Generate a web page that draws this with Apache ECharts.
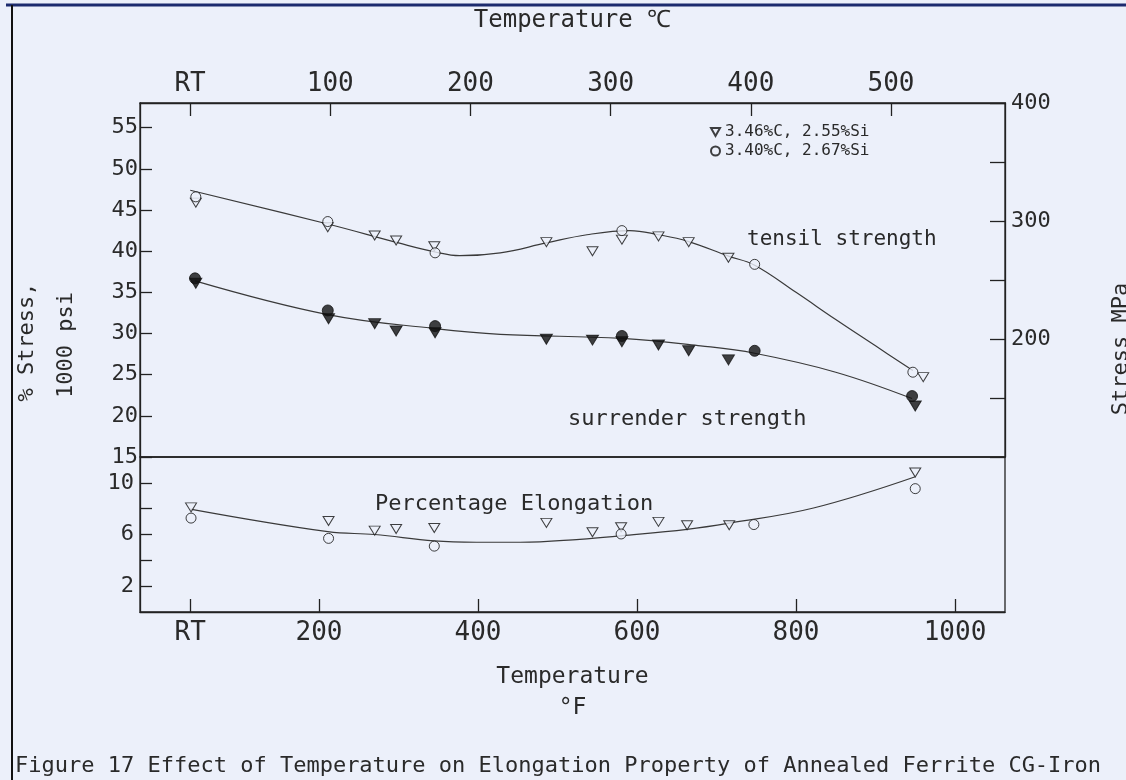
<!DOCTYPE html>
<html><head><meta charset="utf-8">
<script src="https://cdn.jsdelivr.net/npm/echarts@6/dist/echarts.min.js"></script>
<style>html,body{margin:0;padding:0;background:#ECF0FA;} #c{width:1126px;height:780px;}</style>
</head><body><div id="c"></div>
<script>
// ---- tick values / labels ----
const fTickValues = [38, 200, 400, 600, 800, 1000];
const fTickLabels = ['RT', '200', '400', '600', '800', '1000'];
const cTickValues = [0, 100, 200, 300, 400, 500];
const cTickLabels = ['RT', '100', '200', '300', '400', '500'];
const stressTicks = [15, 20, 25, 30, 35, 40, 45, 50, 55];
const mpaTicks = [100, 150, 200, 250, 300, 350, 400];
const mpaLabels = [200, 300, 400];
const elongTicks = [2, 4, 6, 8, 10];
const elongLabels = [2, 6, 10];

// ---- data: [°F, value] ----
// tensile strength (1000 psi)
const tensileA = [[45,45.9],[211,42.9],[270,41.9],[297,41.3],[345,40.6],[486,41.1],[544,40.0],[581,41.4],[627,41.8],[665,41.1],[715,39.2],[960,24.7]]; // 3.46%C, 2.55%Si
const tensileB = [[45,46.6],[211,43.6],[346,39.8],[581,42.5],[748,38.4],[947,25.3]]; // 3.40%C, 2.67%Si
// surrender (yield) strength (1000 psi)
const yieldA = [[45,36.1],[212,31.8],[270,31.2],[297,30.3],[346,30.1],[486,29.3],[544,29.2],[581,29.0],[627,28.6],[665,27.9],[715,26.8],[950,21.2]];
const yieldB = [[44,36.7],[211,32.8],[346,30.9],[581,29.7],[748,27.9],[946,22.4]];
// percentage elongation
const elongA = [[39,8.1],[212,7.05],[270,6.3],[297,6.43],[345,6.5],[486,6.9],[544,6.17],[580,6.56],[627,6.98],[663,6.72],[716,6.72],[950,10.8]];
const elongB = [[39,7.27],[212,5.7],[345,5.1],[580,6.04],[747,6.77],[950,9.55]];
// fitted curves
const tensileCurve = [[38,47.4],[211,43.3],[300,41.0],[346,39.9],[377,39.45],[428,39.8],[486,41.0],[537,42.0],[591,42.5],[627,42.0],[664,41.2],[715,39.4],[748,38.3],[800,35.0],[850,31.7],[900,28.5],[947,25.5]];
const yieldCurve = [[44,36.4],[211,32.3],[346,30.6],[428,29.9],[581,29.4],[680,28.5],[748,27.6],[850,25.3],[946,22.1]];
const elongCurve = [[38,7.97],[211,6.22],[270,6.0],[345,5.5],[398,5.4],[453,5.4],[528,5.63],[580,5.9],[663,6.4],[716,6.88],[822,8.05],[950,10.47]];

const nameA = '3.46%C, 2.55%Si';
const nameB = '3.40%C, 2.67%Si';

const FONT = '"DejaVu Sans Mono", "Liberation Mono", monospace';
const TXT = '#2a2a2a';
const BG = '#ECF0FA';
const AX = '#222';

const chart = echarts.init(document.getElementById('c'), null, {renderer: 'canvas'});

function mapLabel(values, labels) {
  return v => { const i = values.indexOf(v); return i >= 0 ? labels[i] : ''; };
}
const openStyle = {color: BG, borderColor: '#111', borderWidth: 1};
const fillStyle = {color: '#111', borderColor: '#111', borderWidth: 1};
const downTri = 'path://M0,0L10,0L5,9Z';

chart.setOption({
  backgroundColor: BG,
  animation: false,
  grid: [
    {left: 140, top: 103, width: 865, height: 354, show: true, borderColor: AX, borderWidth: 1.3, backgroundColor: 'transparent'},
    {left: 140, top: 457, width: 865, height: 155, show: true, borderColor: AX, borderWidth: 1.3, backgroundColor: 'transparent'}
  ],
  xAxis: [
    {gridIndex: 0, type: 'value', min: -25.2, max: 1062.9, position: 'bottom',
     axisLine: {show: false, onZero: false}, axisTick: {show: false}, axisLabel: {show: false}, splitLine: {show: false}},
    {gridIndex: 0, type: 'value', min: -35.7, max: 581.3, position: 'top',
     name: 'Temperature ℃', nameLocation: 'middle', nameGap: 70,
     nameTextStyle: {fontFamily: FONT, fontSize: 24, color: TXT},
     axisLine: {show: true, onZero: false, lineStyle: {color: AX, width: 1.3}},
     axisTick: {show: true, inside: true, length: 13, customValues: cTickValues, lineStyle: {color: AX, width: 1.3}},
     axisLabel: {show: true, customValues: cTickValues, formatter: mapLabel(cTickValues, cTickLabels),
                 fontFamily: FONT, fontSize: 26, color: TXT, margin: 6},
     splitLine: {show: false}},
    {gridIndex: 1, type: 'value', min: -25.2, max: 1062.9, position: 'bottom',
     name: 'Temperature\n°F', nameLocation: 'middle', nameGap: 50,
     nameTextStyle: {fontFamily: FONT, fontSize: 23, color: TXT, lineHeight: 31},
     axisLine: {show: true, onZero: false, lineStyle: {color: AX, width: 1.3}},
     axisTick: {show: true, inside: true, length: 13, customValues: fTickValues, lineStyle: {color: AX, width: 1.3}},
     axisLabel: {show: true, customValues: fTickValues, formatter: mapLabel(fTickValues, fTickLabels),
                 fontFamily: FONT, fontSize: 26, color: TXT, margin: 8},
     splitLine: {show: false}}
  ],
  yAxis: [
    {gridIndex: 0, type: 'value', min: 15, max: 58, position: 'left',
     axisLine: {show: true, onZero: false, lineStyle: {color: AX, width: 1.3}},
     axisTick: {show: true, inside: true, length: 12, customValues: stressTicks, lineStyle: {color: AX, width: 1.3}},
     axisLabel: {show: true, customValues: stressTicks, fontFamily: FONT, fontSize: 22, color: TXT, margin: 2},
     splitLine: {show: false}},
    {gridIndex: 0, type: 'value', min: 100, max: 400, position: 'right',
     axisLine: {show: true, onZero: false, lineStyle: {color: AX, width: 1.3}},
     axisTick: {show: true, inside: true, length: 15, customValues: mpaTicks, lineStyle: {color: AX, width: 1.3}},
     axisLabel: {show: true, customValues: mpaLabels, fontFamily: FONT, fontSize: 22, color: TXT, margin: 6},
     splitLine: {show: false}},
    {gridIndex: 1, type: 'value', min: 0, max: 12, position: 'left',
     axisLine: {show: true, onZero: false, lineStyle: {color: AX, width: 1.3}},
     axisTick: {show: true, inside: true, length: 12, customValues: elongTicks, lineStyle: {color: AX, width: 1.3}},
     axisLabel: {show: true, customValues: elongLabels, fontFamily: FONT, fontSize: 22, color: TXT, margin: 6},
     splitLine: {show: false}}
  ],
  legend: {
    show: true, orient: 'vertical', left: 710, top: 124, padding: 0,
    itemWidth: 9, itemHeight: 9, itemGap: 3, selectedMode: false,
    textStyle: {fontFamily: FONT, fontSize: 16, color: TXT},
    data: [{name: nameA, icon: downTri}, {name: nameB, icon: 'circle'}]
  },
  series: [
    {type: 'line', name: 'tensil strength', xAxisIndex: 0, yAxisIndex: 0, data: tensileCurve, smooth: 0.4,
     symbol: 'none', lineStyle: {color: '#3a3a3a', width: 1.2}, z: 2},
    {type: 'line', name: 'surrender strength', xAxisIndex: 0, yAxisIndex: 0, data: yieldCurve, smooth: 0.4,
     symbol: 'none', lineStyle: {color: '#3a3a3a', width: 1.2}, z: 2},
    {type: 'line', name: 'Percentage Elongation', xAxisIndex: 2, yAxisIndex: 2, data: elongCurve, smooth: 0.4,
     symbol: 'none', lineStyle: {color: '#3a3a3a', width: 1.2}, z: 2},
    {type: 'scatter', name: nameA, xAxisIndex: 0, yAxisIndex: 0, data: tensileA,
     symbol: 'triangle', symbolRotate: 180, symbolSize: [11, 9], itemStyle: openStyle, z: 3},
    {type: 'scatter', name: nameB, xAxisIndex: 0, yAxisIndex: 0, data: tensileB,
     symbol: 'circle', symbolSize: 10, itemStyle: openStyle, z: 3},
    {type: 'scatter', name: 'yield ' + nameA, xAxisIndex: 0, yAxisIndex: 0, data: yieldA,
     symbol: 'triangle', symbolRotate: 180, symbolSize: [12, 10], itemStyle: fillStyle, z: 3},
    {type: 'scatter', name: 'yield ' + nameB, xAxisIndex: 0, yAxisIndex: 0, data: yieldB,
     symbol: 'circle', symbolSize: 11, itemStyle: fillStyle, z: 3},
    {type: 'scatter', name: nameA, xAxisIndex: 2, yAxisIndex: 2, data: elongA,
     symbol: 'triangle', symbolRotate: 180, symbolSize: [11, 9], itemStyle: openStyle, z: 3},
    {type: 'scatter', name: nameB, xAxisIndex: 2, yAxisIndex: 2, data: elongB,
     symbol: 'circle', symbolSize: 10, itemStyle: openStyle, z: 3}
  ],
  graphic: [
    {type: 'line', shape: {x1: 6, y1: 5, x2: 1126, y2: 5}, style: {stroke: '#1c2b6e', lineWidth: 3}},
    {type: 'line', shape: {x1: 12, y1: 5, x2: 12, y2: 780}, style: {stroke: '#111', lineWidth: 2}},
    {type: 'text', x: 747, y: 240, style: {text: 'tensil strength', font: '21px ' + FONT, fill: TXT, textAlign: 'left', textVerticalAlign: 'middle'}},
    {type: 'text', x: 568, y: 419, style: {text: 'surrender strength', font: '22px ' + FONT, fill: TXT, textAlign: 'left', textVerticalAlign: 'middle'}},
    {type: 'text', x: 375, y: 504, style: {text: 'Percentage Elongation', font: '22px ' + FONT, fill: TXT, textAlign: 'left', textVerticalAlign: 'middle'}},
    {type: 'text', x: 27, y: 342, rotation: Math.PI / 2, style: {text: '% Stress,', font: '22px ' + FONT, fill: TXT, textAlign: 'center', textVerticalAlign: 'middle'}},
    {type: 'text', x: 66, y: 345, rotation: Math.PI / 2, style: {text: '1000 psi', font: '22px ' + FONT, fill: TXT, textAlign: 'center', textVerticalAlign: 'middle'}},
    {type: 'text', x: 1121, y: 349, rotation: Math.PI / 2, style: {text: 'Stress MPa', font: '22px ' + FONT, fill: TXT, textAlign: 'center', textVerticalAlign: 'middle'}},
    {type: 'text', x: 15, y: 766, style: {text: 'Figure 17 Effect of Temperature on Elongation Property of Annealed Ferrite CG-Iron', font: '22px ' + FONT, fill: TXT, textAlign: 'left', textVerticalAlign: 'middle'}}
  ]
});
</script>
</body></html>
